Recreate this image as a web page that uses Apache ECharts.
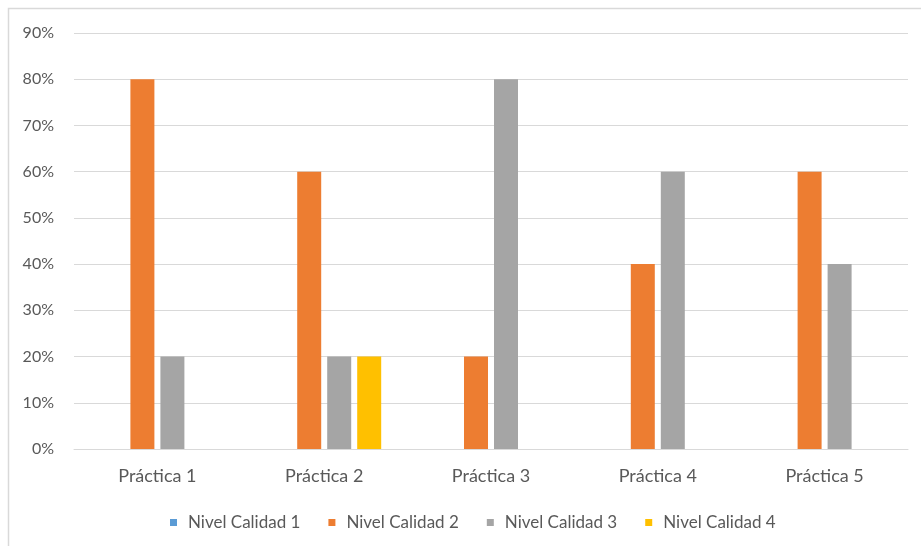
<!DOCTYPE html>
<html>
<head>
<meta charset="utf-8">
<style>
  html, body { margin: 0; padding: 0; background: #ffffff; }
  #chart { width: 921px; height: 546px; }
</style>
<script src="https://cdn.jsdelivr.net/npm/echarts@6/dist/echarts.min.js"></script>
</head>
<body>
<div id="chart"></div>
<script>
// Categories and percentage values per quality level
const categories = ['Práctica 1', 'Práctica 2', 'Práctica 3', 'Práctica 4', 'Práctica 5'];
const seriesNames = ['Nivel Calidad 1', 'Nivel Calidad 2', 'Nivel Calidad 3', 'Nivel Calidad 4'];
const nivel1 = [0, 0, 0, 0, 0];
const nivel2 = [80, 60, 20, 40, 60];
const nivel3 = [20, 20, 80, 60, 40];
const nivel4 = [0, 20, 0, 0, 0];
const seriesColors = ['#5B9BD5', '#ED7D31', '#A5A5A5', '#FFC000'];

const textColor = '#595959';
const gridColor = '#D9D9D9';
const fontFamily = 'Lato, "Open Sans", sans-serif';

const chart = echarts.init(document.getElementById('chart'), null, { renderer: 'canvas' });

const values = [nivel1, nivel2, nivel3, nivel4];

chart.setOption({
  animation: false,
  backgroundColor: '#ffffff',
  textStyle: { fontFamily: fontFamily },
  graphic: [{
    type: 'rect',
    shape: { x: 8.5, y: 8.5, width: 940, height: 560 },
    style: { fill: 'none', stroke: gridColor, lineWidth: 1.5 },
    silent: true
  }],
  grid: { left: 74, right: 13, top: 33, bottom: 97, containLabel: false },
  legend: {
    data: seriesNames,
    top: 509,
    left: 165,
    icon: 'rect',
    itemWidth: 7,
    itemHeight: 7,
    itemGap: 28,
    textStyle: { color: textColor, fontSize: 17, fontFamily: fontFamily, padding: [0, 0, 0, 6] }
  },
  xAxis: {
    type: 'category',
    data: categories,
    axisLine: { show: true, lineStyle: { color: gridColor, width: 1 } },
    axisTick: { show: false },
    axisLabel: { color: textColor, fontSize: 18, margin: 18, fontFamily: fontFamily }
  },
  yAxis: {
    type: 'value',
    min: 0,
    max: 90,
    interval: 10,
    axisLine: { show: false },
    axisTick: { show: false },
    splitLine: { lineStyle: { color: gridColor, width: 1 } },
    axisLabel: { color: textColor, fontSize: 16, margin: 20, formatter: '{value}%', fontFamily: fontFamily }
  },
  series: seriesNames.map((name, i) => ({
    name: name,
    type: 'bar',
    data: values[i],
    barWidth: 24,
    barGap: '25%',
    itemStyle: { color: seriesColors[i] }
  }))
});
</script>
</body>
</html>
